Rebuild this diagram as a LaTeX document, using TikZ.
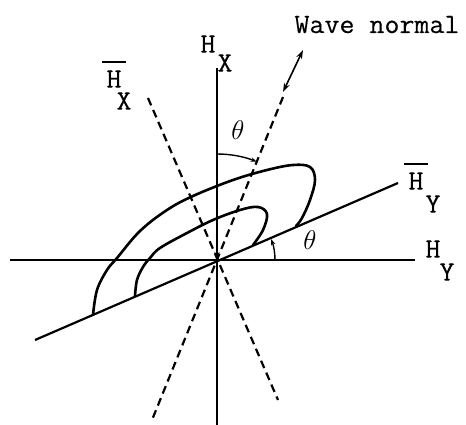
\RequirePackage{fix-cm}
\documentclass[tikz,border=0pt]{standalone}
\usepackage{fontspec}
\newfontfamily\lblfont[FakeStretch=1.04,FakeBold=0.3]{Latin Modern Mono}
\usetikzlibrary{arrows.meta}
\begin{document}
\begin{tikzpicture}[x=1pt,y=-1pt,
  axis/.style={line width=2.2pt},
  dashline/.style={line width=2.2pt, dash pattern=on 8pt off 5pt},
  loopline/.style={line width=2.6pt, line cap=round, line join=round},
  lbl/.style={font=\lblfont\fontsize{28}{28}\selectfont, inner sep=0pt},
  thlbl/.style={font=\fontsize{27}{27}\selectfont, inner sep=0pt},
  anglearc/.style={line width=1.4pt, -{Stealth[length=6pt,width=4.5pt]}},
  barline/.style={line width=2.4pt}]
\useasboundingbox (0,0) rectangle (466,425);
\coordinate (O) at (217,260);
\coordinate (vt) at (217,68);
\coordinate (vb) at (217,425);
\coordinate (hl) at (10,260);
\coordinate (hr) at (415,260);
\coordinate (rl) at (35,340);
\coordinate (rr) at (398,183);
\coordinate (wt) at (283,97);
\coordinate (wb) at (152,420);
\coordinate (xt) at (148,98);
\coordinate (xb) at (278,400);
\coordinate (at1) at (283,92);
\coordinate (at2) at (303,50);
% axes
\draw[axis] (hl) -- (hr);
\draw[axis, -{Stealth[length=8pt,width=5pt]}] (vt) -- (O);
\draw[axis] (O) -- (vb);
\draw[axis] (rl) -- (rr);
% dashed lines
\draw[dashline] (wt) -- (wb);
\draw[dashline] (xt) -- (xb);
% wave normal arrow
\draw[line width=1.6pt, {Stealth[open,length=9pt,width=6pt]}-{Stealth[open,length=9pt,width=6pt]}] (at1) -- (at2);
% angle arcs
\draw[anglearc] (217,154) arc[start angle=-90, end angle=-68, radius=106];
\draw[anglearc] (275,260) arc[start angle=0, end angle=-21, radius=58];
% loops
\draw[loopline] plot[smooth, tension=0.6] coordinates {(93,315) (97,290) (107,270) (117,258) (140,231) (167,210) (193,196) (233,180) (267,170) (293,165) (310,167) (315,180) (310,200) (302,218) (296,226)};
\draw[loopline] plot[smooth, tension=0.6] coordinates {(135,296) (137,280) (143,267) (150,258) (160,248) (187,233) (213,220) (240,210) (258,207) (267,214) (263,230) (253,245)};
% labels
\node[lbl, anchor=base] (wn) at (377,33) {Wave normal};
\node[lbl] (hx) at (208,44) {H};
\node[lbl] (hxs) at (225,63) {X};
\node[lbl] (bhx) at (114,79) {H};
\node[lbl] (bhxs) at (124,101) {X};
\node[lbl] (bhy) at (416,181) {H};
\node[lbl] (bhys) at (433,204) {Y};
\node[lbl] (hy) at (433,249) {H};
\node[lbl] (hys) at (447,272) {Y};
\draw[barline] ([xshift=-4pt,yshift=8pt]bhx.north west) -- ([xshift=4pt,yshift=8pt]bhx.north east);
\draw[barline] ([xshift=-4pt,yshift=8pt]bhy.north west) -- ([xshift=4pt,yshift=8pt]bhy.north east);
\node[thlbl] (t1) at (238,130) {$\theta$};
\node[thlbl] (t2) at (310,240) {$\theta$};
\end{tikzpicture}
\end{document}
